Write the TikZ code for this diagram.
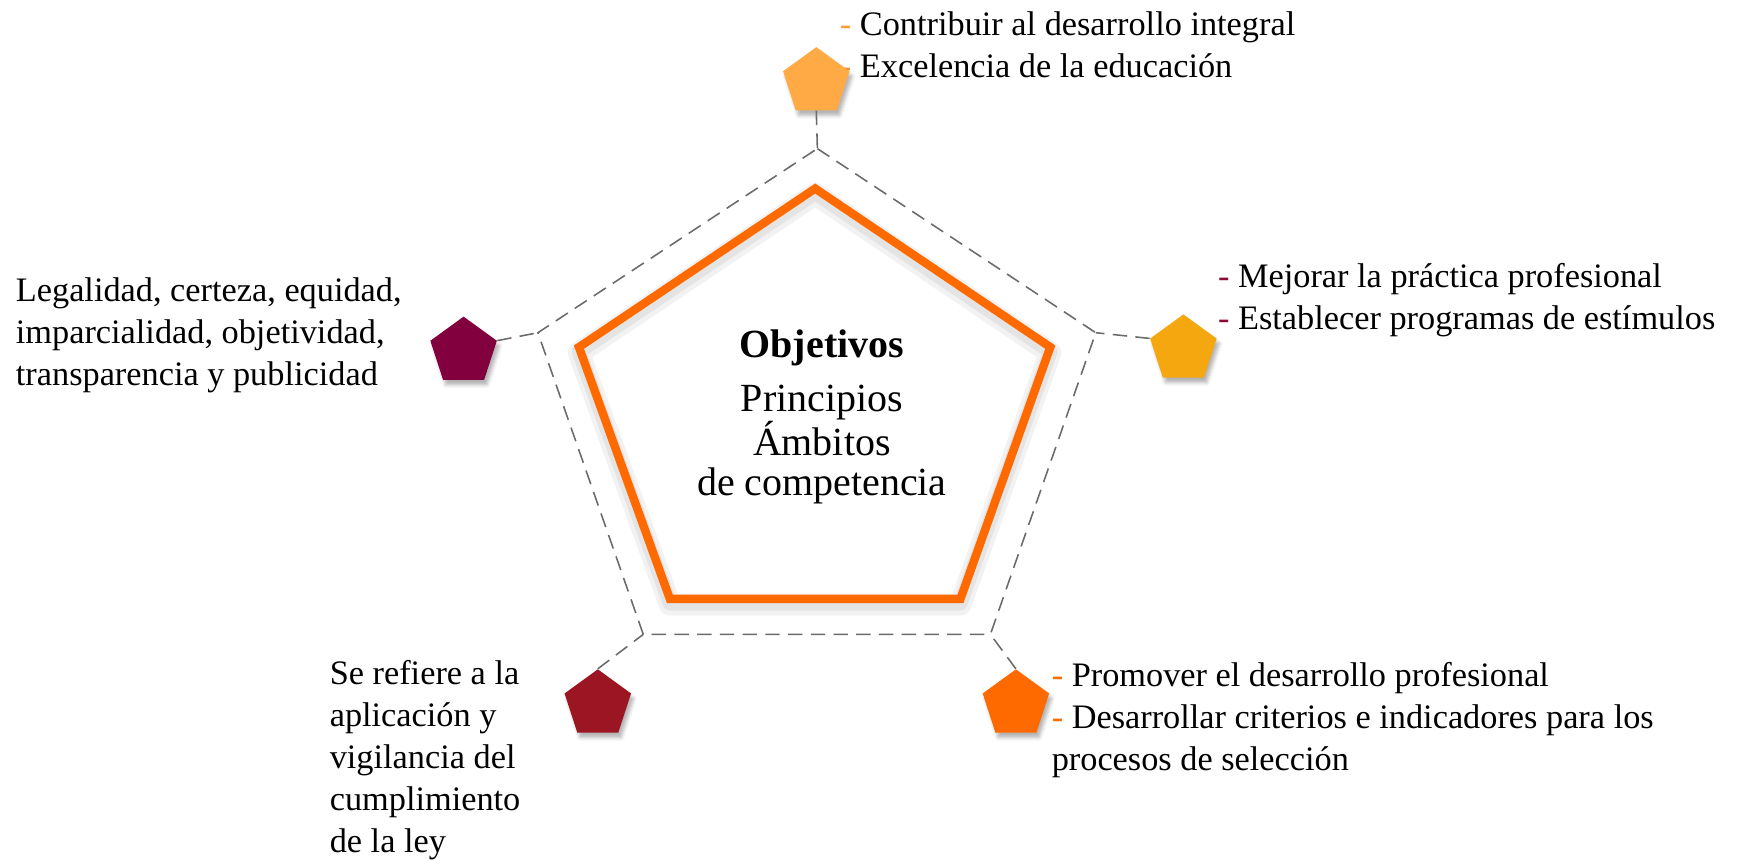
\documentclass[tikz,border=0pt]{standalone}
\usepackage{fontspec}
\setmainfont{Liberation Serif}
\usetikzlibrary{shapes.geometric}
\usetikzlibrary{shadows.blur}

\definecolor{frameorange}{HTML}{FF6A00}
\definecolor{linkgray}{HTML}{6A6A6A}
\definecolor{topcol}{HTML}{FFAA44}
\definecolor{rightcol}{HTML}{F5A70F}
\definecolor{lowrcol}{HTML}{FF6A00}
\definecolor{lowlcol}{HTML}{9B1522}
\definecolor{leftcol}{HTML}{83003F}
\definecolor{topdash}{HTML}{FF9A30}
\definecolor{rightdash}{HTML}{8B0A3A}

\begin{document}
\begin{tikzpicture}[x=0.2mm,y=-0.2mm]
  \tikzset{penta/.style = {shape=regular polygon,regular polygon sides=5,minimum size=12.6mm,inner sep=0pt,
      blur shadow={shadow xshift=0.5mm,shadow yshift=-0.9mm,shadow opacity=30}}}
  \tikzset{link/.style = {draw=linkgray,line width=0.8pt,dash pattern=on 2.6mm off 1.5mm}}
  \tikzset{txt/.style = {font=\fontsize{17.6}{21.6}\selectfont,align=left,inner sep=0pt,anchor=north west}}
  \tikzset{frame/.style = {draw=frameorange,line width=4.3pt,line join=miter}}

  \useasboundingbox (0,0) rectangle (1568,776);

  % dashed pentagon
  \coordinate (dT) at (737,134);
  \coordinate (dR) at (988,300);
  \coordinate (dLR) at (893,572);
  \coordinate (dLL) at (580,572);
  \coordinate (dL) at (485,300);
  \draw[link] (dT) -- (dR) -- (dLR) -- (dLL) -- (dL) -- cycle;

  % orange pentagon with soft shadow
  \draw[black,opacity=0.05,line width=4mm,line join=round,yshift=-1mm] (735,170) -- (947,313) -- (866,540) -- (604,540) -- (522,313) -- cycle;
  \draw[black,opacity=0.06,line width=2.6mm,line join=round,yshift=-0.8mm] (735,170) -- (947,313) -- (866,540) -- (604,540) -- (522,313) -- cycle;
  \draw[frame] (735,170) -- (947,313) -- (866,540) -- (604,540) -- (522,313) -- cycle;

  \node[align=center,inner sep=0pt,anchor=north,font=\fontsize{20.5}{20.5}\selectfont] (Centro) at (741,297)
    {\textbf{Objetivos}\\[7pt] Principios\\ Ámbitos\\ de competencia};

  % texts
  \node[txt] (tTop) at (757,10) {\textcolor{topdash}{-} Contribuir al desarrollo integral\\
    \textcolor{topdash}{-} Excelencia de la educación};
  \node[txt] (tRight) at (1098,237) {\textcolor{rightdash}{-} Mejorar la práctica profesional\\
    \textcolor{rightdash}{-} Establecer programas de estímulos};
  \node[txt] (tLowR) at (948,597) {\textcolor{lowrcol}{-} Promover el desarrollo profesional\\
    \textcolor{lowrcol}{-} Desarrollar criterios e indicadores para los\\
    procesos de selección};
  \node[txt] (tLowL) at (297,595) {Se refiere a la\\ aplicación y\\ vigilancia del\\ cumplimiento\\ de la ley};
  \node[txt] (tLeft) at (14,250) {Legalidad, certeza, equidad,\\ imparcialidad, objetividad,\\ transparencia y publicidad};

  % small pentagons
  \node[penta,fill=topcol] (pTop) at (736,74) {};
  \node[penta,fill=rightcol] (pRight) at (1067,315) {};
  \node[penta,fill=lowrcol] (pLowR) at (916,635) {};
  \node[penta,fill=lowlcol] (pLowL) at (539,635) {};
  \node[penta,fill=leftcol] (pLeft) at (418,317) {};

  \foreach \from/\to in {pTop.side 3/dT, pRight.corner 2/dR, pLowR.corner 1/dLR, pLowL.corner 1/dLL, pLeft.corner 5/dL}
    \draw[link] (\from) -- (\to);
\end{tikzpicture}
\end{document}
